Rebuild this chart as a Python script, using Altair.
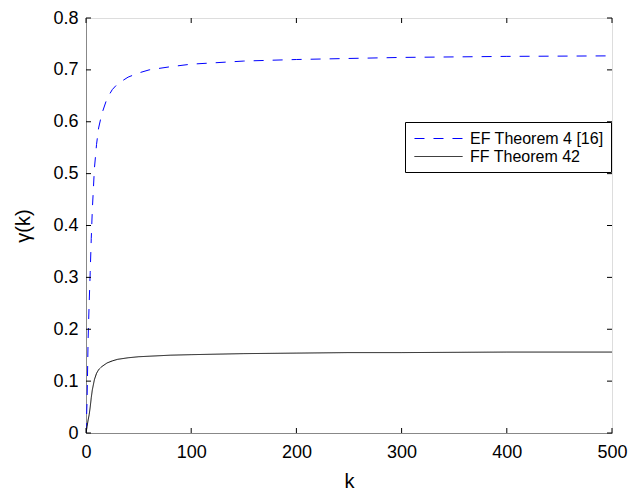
import altair as alt
import pandas as pd

k_vals = [0, 1, 2, 3, 4, 5, 6, 8, 10, 12, 15, 20, 25, 30, 40, 50, 60, 80, 100, 150, 200, 250, 300, 400, 500]
ef_vals = [0.0, 0.06, 0.18, 0.25, 0.31, 0.375, 0.43, 0.51, 0.556, 0.588, 0.615, 0.645, 0.662, 0.673, 0.686, 0.694, 0.700, 0.706, 0.711, 0.717, 0.720, 0.722, 0.724, 0.726, 0.727]
ff_vals = [0.0, 0.012, 0.025, 0.035, 0.050, 0.068, 0.083, 0.103, 0.115, 0.122, 0.128, 0.135, 0.139, 0.142, 0.145, 0.147, 0.148, 0.150, 0.151, 0.153, 0.154, 0.155, 0.155, 0.156, 0.156]
series_names = ["EF Theorem 4 [16]", "FF Theorem 42"]
series_colors = ["#0000ff", "#000000"]
x_ticks = [0, 100, 200, 300, 400, 500]
y_ticks = [0, 0.1, 0.2, 0.3, 0.4, 0.5, 0.6, 0.7, 0.8]

rows = []
for kv, a, b in zip(k_vals, ef_vals, ff_vals):
    rows.append({"k": kv, "g": a, "s": series_names[0]})
    rows.append({"k": kv, "g": b, "s": series_names[1]})
df = pd.DataFrame(rows)

W, H = 526, 415
FONT = "Liberation Sans"

xs = alt.Scale(domain=[0, 500], nice=False, zero=False, padding=0)
ys = alt.Scale(domain=[0, 0.8], nice=False, padding=0)

legend = alt.Legend(
    orient="none", legendX=319, legendY=104, title=None,
    strokeColor="black", fillColor="white", padding=7, cornerRadius=0,
    symbolType="M-0.778,0H4.556", symbolSize=324, symbolStrokeWidth=1,
    labelFont=FONT, labelFontSize=16, labelColor="black", rowPadding=0,
    labelOffset=39, labelLimit=300,
)

lines = alt.Chart(df).mark_line(strokeWidth=1, clip=True).encode(
    x=alt.X("k:Q", scale=xs, title="k",
            axis=alt.Axis(values=x_ticks, tickSize=0, labelPadding=10, grid=False,
                          labelFlush=False,
                          titlePadding=10, labelFontSize=18, titleFontSize=20,
                          titleFontWeight="normal")),
    y=alt.Y("g:Q", scale=ys, title="γ(k)",
            axis=alt.Axis(values=y_ticks, tickSize=0, labelPadding=8, grid=False,
                          labelFlush=False,
                          format=".1~f", titlePadding=19, labelFontSize=18,
                          titleFontSize=20, titleFontWeight="normal")),
    color=alt.Color("s:N", scale=alt.Scale(domain=series_names, range=series_colors),
                    legend=legend),
    strokeDash=alt.StrokeDash("s:N", scale=alt.Scale(domain=series_names,
                                                     range=[[10, 9], [1, 0]]),
                              legend=legend),
    order="k:Q",
)

xt = pd.DataFrame({"k": x_ticks})
yt = pd.DataFrame({"g": y_ticks})
tick_b = alt.Chart(xt).mark_rule(color="black", strokeWidth=1).encode(
    x=alt.X("k:Q", scale=xs), y=alt.value(H), y2=alt.value(H - 5))
tick_t = alt.Chart(xt).mark_rule(color="black", strokeWidth=1).encode(
    x=alt.X("k:Q", scale=xs), y=alt.value(0), y2=alt.value(5))
tick_l = alt.Chart(yt).mark_rule(color="black", strokeWidth=1).encode(
    y=alt.Y("g:Q", scale=ys), x=alt.value(0), x2=alt.value(5))
tick_r = alt.Chart(yt).mark_rule(color="black", strokeWidth=1).encode(
    y=alt.Y("g:Q", scale=ys), x=alt.value(W), x2=alt.value(W - 5))

chart = alt.layer(lines, tick_b, tick_t, tick_l, tick_r).properties(
    width=W, height=H,
    autosize=alt.AutoSizeParams(type="none"),
    padding={"left": 86, "top": 18, "right": 32, "bottom": 62},
).configure_view(stroke="black", strokeWidth=1).configure_axis(
    domainColor="black", labelColor="black", titleColor="black",
    labelFont=FONT, titleFont=FONT,
).configure(background="white")

chart.save("out.html", embed_options={"renderer": "svg", "actions": False})
